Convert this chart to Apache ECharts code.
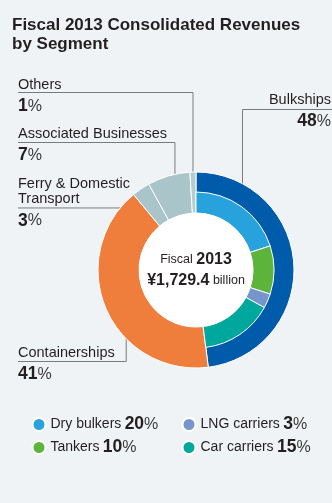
<!DOCTYPE html>
<html>
<head>
<meta charset="utf-8">
<script src="https://cdn.jsdelivr.net/npm/echarts@6/dist/echarts.min.js"></script>
<style>
  html, body { margin: 0; padding: 0; background: #eff3f5; }
  #chart { width: 332px; height: 503px; }
</style>
</head>
<body>
<div id="chart"></div>
<script>
// Segment shares of consolidated revenues (%), fiscal 2013
const segmentNames = ['Bulkships', 'Containerships', 'Ferry & Domestic\nTransport', 'Associated Businesses', 'Others'];
const segmentShares = [48, 41, 3, 7, 1];

// Breakdown of the Bulkships segment (%)
const bulkNames = ['Dry bulkers', 'Tankers', 'LNG carriers', 'Car carriers'];
const bulkShares = [20, 10, 3, 15];

const fiscalYear = '2013';
const totalRevenue = '¥1,729.4';

// Styling
const segmentColors = ['#005cab', '#ef7d3b', '#a9c5c9', '#a9c5c9', '#b3cdd0'];
const bulkColors = ['#28a2dc', '#5cb43b', '#7695cd', '#00a79c'];
const FONT = '"Liberation Sans", Arial, sans-serif';
const NARROW = '"Liberation Sans Narrow", "Liberation Sans", Arial, sans-serif';
const CX = 196, CY = 270;

// Where each segment's leader line starts inside its slice (fraction along the slice, radius)
// and where its callout text sits.
const calloutAnchors = [
  { frac: 0.18, r: 90 }, { frac: 0.41, r: 87 }, { frac: 0.4, r: 76 }, { frac: 0.6, r: 89 }, { frac: 0.4, r: 80 }
];
const calloutBoxes = [
  { x: 331, top: 92, lineY: 109.5, edge: 332, align: 'right', elbow: true },
  { x: 18, top: 345, lineY: 361.5, edge: 18, align: 'left', elbow: true },
  { x: 18, top: 176.5, lineY: 208.5, edge: 18, align: 'left', elbow: false },
  { x: 18, top: 126, lineY: 142.5, edge: 18, align: 'left', elbow: true },
  { x: 18, top: 77, lineY: 92.5, edge: 18, align: 'left', elbow: true }
];

function anchorPoint(i) {
  let start = 0;
  for (let k = 0; k < i; k++) start += segmentShares[k];
  const pct = start + segmentShares[i] * calloutAnchors[i].frac;
  const t = pct / 100 * Math.PI * 2;
  const r = calloutAnchors[i].r;
  return [CX + r * Math.sin(t), CY - r * Math.cos(t)];
}

const chart = echarts.init(document.getElementById('chart'), null, { renderer: 'canvas' });

const percentRich = {
  v: { fontFamily: NARROW, fontWeight: 'bold', fontSize: 17.5, color: '#231f20', lineHeight: 29 },
  p: { fontFamily: NARROW, fontSize: 16, color: '#3a3a3a', lineHeight: 29 }
};

const option = {
  backgroundColor: '#eff3f5',
  animation: false,
  title: {
    text: 'Fiscal 2013 Consolidated Revenues\nby Segment',
    left: 12,
    top: 16,
    padding: 0,
    textStyle: { fontFamily: FONT, fontWeight: 'bold', fontSize: 17, lineHeight: 19, color: '#231f20' }
  },
  legend: [0, 1].map(function (col) {
    return {
      orient: 'vertical',
      left: col === 0 ? 31.5 : 181.5,
      top: 415.5,
      padding: 0,
      itemWidth: 13,
      itemHeight: 13,
      itemGap: 5,
      icon: 'circle',
      selectedMode: false,
      data: col === 0 ? [bulkNames[0], bulkNames[1]] : [bulkNames[2], bulkNames[3]],
      formatter: function (name) {
        const v = bulkShares[bulkNames.indexOf(name)];
        return '{n|' + name + '} {v|' + v + '}{p|%}';
      },
      textStyle: {
        fontFamily: FONT,
        rich: {
          n: { fontFamily: FONT, fontSize: 14, color: '#231f20' },
          v: { fontFamily: NARROW, fontWeight: 'bold', fontSize: 17.5, color: '#231f20' },
          p: { fontFamily: NARROW, fontSize: 16, color: '#3a3a3a' }
        }
      }
    };
  }),
  series: [
    {
      // Segments: full-width ring
      name: 'Segments',
      type: 'pie',
      center: [CX, CY],
      radius: [57, 98],
      startAngle: 90,
      clockwise: true,
      avoidLabelOverlap: false,
      emphasis: { disabled: true },
      itemStyle: { borderColor: '#ffffff', borderWidth: 1 },
      data: segmentNames.map(function (n, i) {
        return { name: n, value: segmentShares[i], itemStyle: { color: segmentColors[i] } };
      }),
      label: {
        show: true,
        position: 'outside',
        formatter: function (p) {
          const lines = p.name.split('\n').map(function (s) { return '{n|' + s + '}'; });
          return lines.join('\n') + '\n{v|' + p.value + '}{p|%}';
        },
        rich: Object.assign({
          n: { fontFamily: FONT, fontSize: 14.5, color: '#231f20', lineHeight: 15 }
        }, percentRich)
      },
      labelLine: { show: true, length: 10, length2: 10, smooth: false, lineStyle: { color: '#7b7b7b', width: 1 } },
      labelLayout: function (params) {
        const i = params.dataIndex;
        const box = calloutBoxes[i];
        const a = anchorPoint(i);
        let pts;
        if (box.elbow) {
          pts = [a, [a[0], box.lineY], [box.edge, box.lineY]];
        } else {
          pts = [a, [(a[0] + box.edge) / 2, a[1]], [box.edge, a[1]]];
        }
        return {
          x: box.x,
          y: box.top,
          align: box.align,
          verticalAlign: 'top',
          labelLinePoints: pts
        };
      }
    },
    {
      // Bulkships breakdown drawn over the inner half of the Bulkships slice
      name: 'Bulkships',
      type: 'pie',
      center: [CX, CY],
      radius: [57, 78],
      startAngle: 90,
      clockwise: true,
      emphasis: { disabled: true },
      label: { show: false },
      labelLine: { show: false },
      itemStyle: { borderColor: '#ffffff', borderWidth: 1 },
      data: bulkNames.map(function (n, i) {
        return { name: n, value: bulkShares[i], itemStyle: { color: bulkColors[i] } };
      }).concat([{
        name: '',
        value: 100 - bulkShares.reduce(function (s, v) { return s + v; }, 0),
        itemStyle: { color: 'rgba(0,0,0,0)', borderWidth: 0 },
        silent: true
      }])
    },
    {
      // Centre disc with the total
      name: 'Total',
      type: 'pie',
      center: [CX, CY],
      radius: [0, 57],
      silent: true,
      emphasis: { disabled: true },
      labelLine: { show: false },
      data: [{ name: 'Total', value: 1, itemStyle: { color: '#ffffff' } }],
      label: {
        show: true,
        position: 'center',
        formatter: '{a|Fiscal }{b|' + fiscalYear + '}\n{b|' + totalRevenue + '}{a| billion}',
        rich: {
          a: { fontFamily: FONT, fontSize: 12.5, color: '#231f20', lineHeight: 21 },
          b: { fontFamily: NARROW, fontWeight: 'bold', fontSize: 16, color: '#231f20', lineHeight: 21 }
        }
      }
    }
  ]
};

chart.setOption(option);
</script>
</body>
</html>
